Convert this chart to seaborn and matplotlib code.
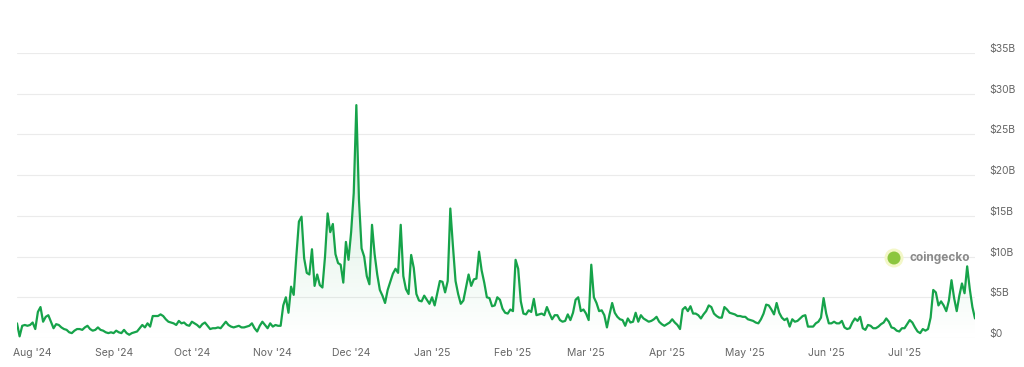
import numpy as np
import pandas as pd
import matplotlib
matplotlib.use("Agg")
import matplotlib.pyplot as plt
import matplotlib.dates as mdates
from matplotlib.transforms import ScaledTranslation
from matplotlib.patches import Ellipse
import seaborn as sns

# daily trading volume, billions USD, starting 2024-07-26
volume_b = [
    1.8, 0.2, 1.5, 1.6, 1.5, 1.6, 1.9, 1.1, 3.2, 3.8, 2.0, 2.6, 2.8, 2.0, 1.2, 1.7, 1.6, 1.3, 1.1, 1.0,
    0.7, 0.6, 0.9, 1.1, 1.1, 1.0, 1.3, 1.5, 1.1, 0.9, 1.0, 1.3, 1.0, 0.9, 0.7, 0.6, 0.7, 0.6, 0.9, 0.7,
    0.6, 1.0, 0.6, 0.4, 0.6, 0.7, 0.8, 1.2, 1.6, 1.3, 1.8,
    1.4, 2.7, 2.7, 2.7, 2.9, 2.7, 2.3, 2.0, 1.9, 1.8, 1.6, 2.1, 1.8, 1.9, 1.6, 1.5, 2.0, 1.8, 1.6, 1.3,
    1.7, 1.9, 1.5, 1.1, 1.2, 1.2, 1.3, 1.2, 1.6, 2.0, 1.6, 1.4, 1.3, 1.4, 1.5, 1.3, 1.3, 1.4, 1.5, 1.8,
    1.2, 0.8, 1.5, 2.0, 1.6, 1.2,
    1.8, 1.4, 1.6, 1.5, 1.5, 4.0, 5.0, 3.1, 6.3, 5.3, 10.0, 14.3, 14.9, 9.8, 8.0, 7.8, 10.9, 6.4, 7.8, 6.5,
    6.2, 10.0, 15.3, 13.0, 14.0, 10.3, 9.2, 9.0, 6.8, 11.8, 9.6, 13.0, 17.8, 28.6, 17.0, 11.0, 10.0, 7.6, 6.6, 13.9,
    10.3, 7.8, 5.9, 5.2, 4.3, 5.9, 6.9, 7.9, 8.5, 8.0, 13.9, 7.6, 6.0, 5.4,
    10.2, 8.6, 5.4, 4.6, 4.5, 5.2, 4.7, 4.2, 5.0, 4.0, 5.5, 7.0, 6.9, 5.6, 7.0, 15.9, 11.3, 7.0, 5.4, 4.2,
    4.6, 6.2, 7.8, 6.4, 7.2, 7.3, 10.6, 8.3, 6.8, 5.0, 4.9, 3.9, 4.0, 5.0, 4.7, 3.6, 3.1, 3.0, 3.5, 3.3,
    9.6, 8.5, 4.5, 3.0, 2.9, 3.4, 3.2, 4.8, 2.8, 2.9,
    3.0, 2.8, 3.8, 3.0, 2.3, 2.8, 2.8, 2.2, 2.0, 2.1, 2.9, 2.2, 3.1, 4.7, 5.0, 3.3, 3.5, 3.0, 2.2, 9.0,
    5.0, 4.3, 3.3, 3.4, 2.8, 1.3, 2.9, 4.3, 3.1, 2.6, 2.3, 2.2, 1.5, 2.4, 1.9, 2.0, 3.1, 2.0, 2.8, 2.4,
    2.2, 2.0, 2.1, 2.3, 2.6, 2.0, 1.7, 1.5, 1.7, 1.9,
    2.3, 1.9, 1.6, 1.1, 3.5, 3.8, 3.3, 3.9, 3.0, 3.0, 2.8, 2.4, 2.9, 3.3, 4.0, 3.8, 3.0, 2.7, 2.5, 2.5,
    3.8, 3.5, 3.1, 3.0, 2.9, 2.7, 2.7, 2.6, 2.6, 2.3, 2.2, 2.1, 1.9, 1.8, 2.3, 3.0, 4.1, 4.0, 3.5, 2.9,
    4.3, 3.1, 2.5, 2.2, 2.4, 1.4, 2.3, 2.0, 2.1, 2.4, 2.7, 2.8, 1.4,
    1.4, 1.4, 1.8, 2.0, 2.5, 4.9, 3.0, 1.8, 1.8, 2.0, 1.8, 1.8, 2.1, 1.3, 1.1, 1.2, 1.9, 2.4, 2.1, 2.6,
    1.2, 1.0, 1.6, 1.5, 1.2, 1.2, 1.4, 1.7, 1.9, 2.4, 2.0, 1.3, 1.2, 0.9, 0.8, 1.2, 1.2, 1.7, 2.2, 1.9,
    1.3, 0.8, 0.6, 1.1, 0.9, 1.1, 2.5, 5.9, 5.6, 4.0, 4.5, 4.0, 3.3, 4.6, 7.1, 4.9, 3.3, 5.2, 6.7, 5.5,
    8.8, 6.0, 3.8, 2.4,
]
start_date = "2024-07-26"
y_ticks = [0, 5, 10, 15, 20, 25, 30, 35]
y_labels = ["$0", "$5B", "$10B", "$15B", "$20B", "$25B", "$30B", "$35B"]

dates = pd.date_range(start_date, periods=len(volume_b), freq="D")
df = pd.DataFrame({"date": dates, "volume": volume_b})

green = "#16a34a"
sns.set_theme(style="white")
plt.rcParams["font.family"] = ["Inter", "DejaVu Sans"]

fig = plt.figure(figsize=(10.24, 3.67), dpi=100)
ax = fig.add_axes([17 / 1024, 29 / 367, 958 / 1024, 285 / 367])

sns.lineplot(data=df, x="date", y="volume", ax=ax, color=green, linewidth=1.6)

# gradient fill under the line
fill = ax.fill_between(df["date"], df["volume"], 0, color="none")
x0, x1 = mdates.date2num(dates[0]), mdates.date2num(dates[-1])
grad = np.linspace(0.22, 0.0, 256).reshape(-1, 1)
rgba = np.zeros((256, 1, 4))
rgba[..., :3] = matplotlib.colors.to_rgb(green)
rgba[..., 3] = grad
img = ax.imshow(rgba, extent=[x0, x1, 0, 29], aspect="auto", origin="upper", zorder=1)
img.set_clip_path(fill.get_paths()[0], transform=ax.transData)

ax.set_xlim(dates[0], dates[-1])
ax.set_ylim(0, 35)
ax.set_yticks(y_ticks)
ax.set_yticklabels(y_labels)
ax.yaxis.tick_right()
ax.grid(axis="y", color="#ebebeb", linewidth=0.8)
ax.grid(axis="x", visible=False)
for s in ax.spines.values():
    s.set_visible(False)

ax.xaxis.set_major_locator(mdates.MonthLocator())
ax.xaxis.set_major_formatter(mdates.DateFormatter("%b '%y"))
ax.tick_params(axis="x", length=0, pad=7, labelsize=7.5, labelcolor="#666666")
ax.tick_params(axis="y", length=0, pad=10, labelsize=7.5, labelcolor="#666666")
off = ScaledTranslation(0, 5 / 100, fig.dpi_scale_trans)
for lab in ax.get_yticklabels():
    lab.set_transform(lab.get_transform() + off)
ax.set_xlabel("")
ax.set_ylabel("")

# coingecko watermark
cx, cy = 894 / 1024, 1 - 258 / 367
fig.patches.append(Ellipse((cx, cy), 19 / 1024, 19 / 367, transform=fig.transFigure,
                           facecolor="#f3f7c8", edgecolor="none", zorder=5))
fig.patches.append(Ellipse((cx, cy), 13 / 1024, 13 / 367, transform=fig.transFigure,
                           facecolor="#8cc63f", edgecolor="none", zorder=6))
fig.text(909 / 1024, cy, "coingecko", fontsize=8.5, fontweight="bold",
         color="#8a8a8a", va="center", ha="left")

fig.savefig("out.png", dpi=100)
